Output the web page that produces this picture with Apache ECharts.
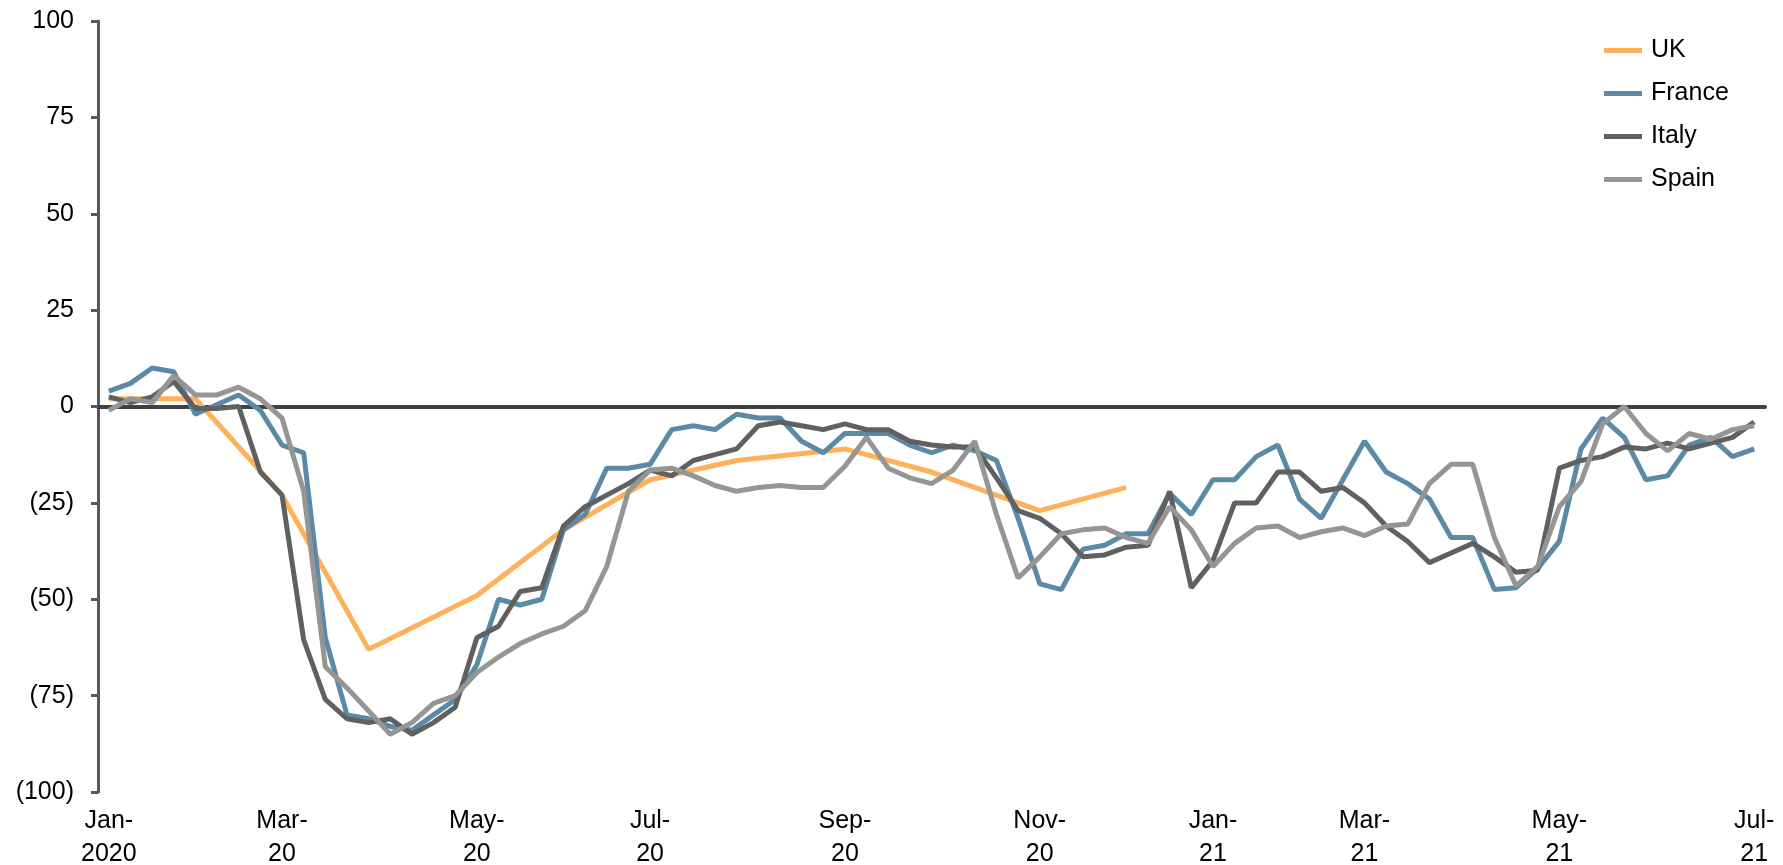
<!DOCTYPE html>
<html>
<head>
<meta charset="utf-8">
<title>Weekly change</title>
<script src="https://cdn.jsdelivr.net/npm/echarts/dist/echarts.min.js"></script>
<style>
  html, body { margin: 0; padding: 0; background: #fff; }
  .chart { width: 1783px; height: 865px; }
</style>
</head>
<body>
<div class="chart"></div>
<script>
// weekly points, Jan 2020 -> Jul 2021
const weeks = Array.from({ length: 77 }, (_, i) => 'W' + (i + 1))

// which weeks carry an x label, and the label text
const tickWeeks = [0, 8, 17, 25, 34, 43, 51, 58, 67, 76]
const tickLabels = ['Jan-\n2020', 'Mar-\n20', 'May-\n20', 'Jul-\n20', 'Sep-\n20',
  'Nov-\n20', 'Jan-\n21', 'Mar-\n21', 'May-\n21', 'Jul-\n21']

// UK is only monthly
const ukWeeks = [0, 4, 8, 12, 17, 21, 25, 29, 34, 38, 43, 47]
const ukValues = [2, 2, -23, -63, -49, -32, -19, -14, -11, -17, -27, -21]

const franceValues = [4, 6, 10, 9, -2, 0.5, 3, -1, -10, -12,
  -60, -80, -81, -83, -84, -80, -76, -67, -50, -51.5,
  -50, -32, -28, -16, -16, -15, -6, -5, -6, -2,
  -3, -3, -9, -12, -7, -7, -7, -10, -12, -10,
  -11.5, -14, -29, -46, -47.5, -37, -36, -33, -33, -22.5,
  -28, -19, -19, -13, -10, -24, -29, -19, -9, -17,
  -20, -24, -34, -34, -47.5, -47, -42, -35, -11, -3,
  -8, -19, -18, -10, -8, -13, -11]

const italyValues = [2.5, 1, 2.5, 6.5, -0.5, -0.5, 0, -17, -23, -60.5,
  -76, -81, -82, -81, -85, -82, -78, -60, -57, -48,
  -47, -31, -26, -23, -20, -16.5, -18, -14, -12.5, -11,
  -5, -4, -5, -6, -4.5, -6, -6, -9, -10, -10.5,
  -10.5, -18.5, -27, -29, -33, -39, -38.5, -36.5, -36, -22,
  -47, -40, -25, -25, -17, -17, -22, -21, -25, -31,
  -35, -40.5, -38, -35.5, -39, -43, -42.5, -16, -14, -13,
  -10.5, -11, -9.5, -11, -9.5, -8, -4]

const spainValues = [-1, 2, 1, 8, 3, 3, 5, 2, -3, -22,
  -67.5, -73, -79, -85, -82, -77, -75, -69, -65, -61.5,
  -59, -57, -53, -41.5, -22, -16.5, -16, -18, -20.5, -22,
  -21, -20.5, -21, -21, -15.5, -8, -16, -18.5, -20, -16.5,
  -9, -28, -44.5, -39, -33, -32, -31.5, -34, -35.5, -26,
  -32, -41.5, -35.5, -31.5, -31, -34, -32.5, -31.5, -33.5, -31,
  -30.5, -20, -15, -15, -34, -46.5, -41.5, -26, -19.5, -4.5,
  0, -7, -11.5, -7, -8.5, -6, -5]

;(function () {
  let myChart = echarts.init(document.querySelector('.chart'))
  let font = 'Liberation Sans, Arial, Helvetica, sans-serif'

  let option = {
    animation: false,
    color: ['#ffb05a', '#5b8aa6', '#606060', '#959595'],
    legend: {
      orient: 'vertical',
      left: 1599,
      top: 33,
      itemGap: 18,
      itemWidth: 38,
      itemHeight: 5,
      icon: 'rect',
      textStyle: {
        color: '#000',
        fontSize: 25,
        fontFamily: font,
        padding: [0, 0, 0, 4]
      },
      data: ['UK', 'France', 'Italy', 'Spain']
    },
    grid: {
      left: 98,
      right: 18,
      top: 21,
      bottom: 73,
      // don't squeeze the plot to fit the labels
      outerBoundsMode: 'none',
      containLabel: false
    },
    xAxis: [
      // labels sit at the bottom of the plot
      {
        type: 'category',
        data: weeks,
        boundaryGap: true,
        axisLine: { show: false, onZero: false },
        axisTick: { show: false },
        splitLine: { show: false },
        axisLabel: {
          margin: 13,
          color: '#000',
          fontSize: 25,
          lineHeight: 33,
          fontFamily: font,
          interval: function (index) {
            return tickWeeks.indexOf(index) !== -1
          },
          formatter: function (value, index) {
            let k = tickWeeks.indexOf(index)
            return k === -1 ? '' : tickLabels[k]
          }
        }
      },
      // the dark line through zero
      {
        type: 'category',
        data: weeks,
        position: 'bottom',
        axisLine: {
          show: true,
          onZero: true,
          lineStyle: { color: '#404040', width: 4 }
        },
        axisTick: { show: false },
        axisLabel: { show: false },
        splitLine: { show: false }
      }
    ],
    yAxis: {
      type: 'value',
      min: -100,
      max: 100,
      interval: 25,
      axisLine: {
        show: true,
        lineStyle: { color: '#595959', width: 3 }
      },
      axisTick: {
        show: true,
        length: 7,
        lineStyle: { color: '#595959', width: 3 }
      },
      splitLine: { show: false },
      axisLabel: {
        margin: 24,
        color: '#000',
        fontSize: 25,
        fontFamily: font,
        // negatives in brackets
        formatter: function (v) {
          return v < 0 ? '(' + (-v) + ')' : String(v)
        }
      }
    },
    series: [
      {
        name: 'UK',
        type: 'line',
        symbol: 'none',
        connectNulls: true,
        lineStyle: { width: 5 },
        data: ukWeeks.map((w, j) => [w, ukValues[j]])
      },
      {
        name: 'France',
        type: 'line',
        symbol: 'none',
        lineStyle: { width: 5 },
        data: franceValues
      },
      {
        name: 'Italy',
        type: 'line',
        symbol: 'none',
        lineStyle: { width: 5 },
        data: italyValues
      },
      {
        name: 'Spain',
        type: 'line',
        symbol: 'none',
        lineStyle: { width: 5 },
        data: spainValues
      }
    ]
  }

  myChart.setOption(option)

  window.addEventListener('resize', function () {
    myChart.resize()
  })
})();
</script>
</body>
</html>
